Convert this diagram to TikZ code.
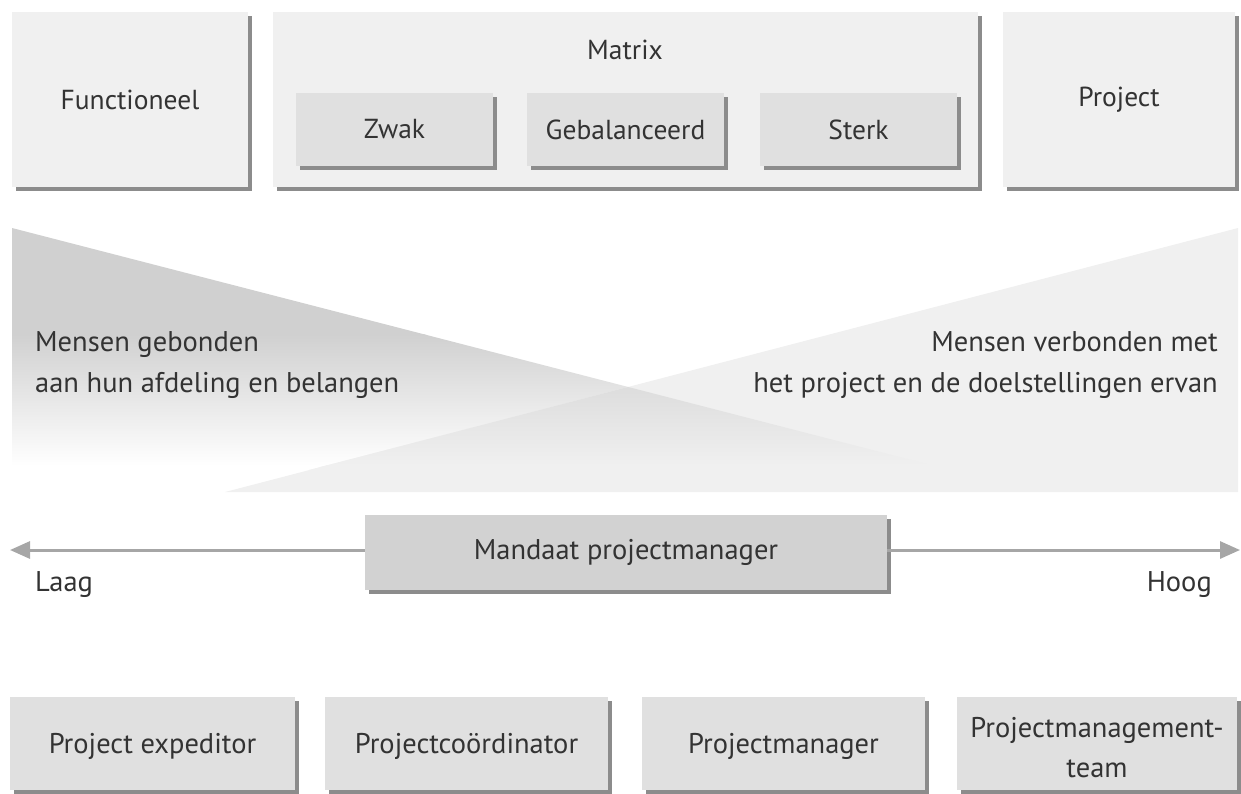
\documentclass[tikz,border=0pt]{standalone}
\usepackage{fontspec}
\setmainfont{PT Sans}
\usetikzlibrary{arrows.meta,shadows}

\definecolor{boxlight}{HTML}{F0F0F0}
\definecolor{boxmid}{HTML}{E0E0E0}
\definecolor{boxdark}{HTML}{D2D2D2}
\definecolor{shadowgray}{HTML}{8C8C8C}
\definecolor{wedgedark}{HTML}{D0D0D0}
\definecolor{wedgelight}{HTML}{F0F0F0}
\definecolor{inkgray}{HTML}{333333}
\definecolor{axisgray}{HTML}{A6A6A6}

\tikzset{
  txt/.style={text=inkgray, font=\fontsize{28.5}{34}\selectfont, inner sep=0pt},
  toptxt/.style={text=inkgray, font=\fontsize{27.5}{33}\selectfont, inner sep=0pt},
  shadowed/.style={drop shadow={shadow xshift=4pt, shadow yshift=-4pt,
      fill=shadowgray, opacity=1}},
  outerbox/.style={shadowed, fill=boxlight, draw=none, toptxt},
  innerbox/.style={shadowed, fill=boxmid, draw=none, toptxt},
  centerbox/.style={shadowed, fill=boxdark, draw=none, txt},
  rolebox/.style={shadowed, fill=boxmid, draw=none,
      minimum width=283pt, minimum height=93pt},
  axis/.style={draw=axisgray, line width=3pt,
      -{Triangle[length=20pt,width=17pt]}},
}

\begin{document}
\begin{tikzpicture}[x=1pt,y=-1pt]
\useasboundingbox (0,0) rectangle (1241,793);

% organisation types
\node[outerbox, minimum width=236pt, minimum height=175pt] (func) at (130,99.5) {Functioneel};
\node[outerbox, minimum width=705pt, minimum height=175pt] (matrix) at (625.5,99.5) {};
\node[toptxt] (matrixlabel) at (625,50) {Matrix};
\node[innerbox, minimum width=197pt, minimum height=73pt] (zwak) at (394.5,129.5) {Zwak};
\node[innerbox, minimum width=197pt, minimum height=73pt] (gebal) at (625.5,129.5) {Gebalanceerd};
\node[innerbox, minimum width=197pt, minimum height=73pt] (sterk) at (858.5,129.5) {Sterk};
\node[outerbox, minimum width=232pt, minimum height=175pt] (proj) at (1119,99.5) {Project};

% wedge with people tied to their department
\begin{scope}
  \clip (12,228) -- (950,470) -- (12,470) -- cycle;
  \fill[wedgedark] (0,220) rectangle (1000,335);
  \shade[top color=wedgedark, bottom color=white] (0,334) rectangle (1000,466);
  \fill[white] (0,465) rectangle (1000,480);
\end{scope}
% wedge with people tied to the project
\fill[wedgelight] (225,492) -- (1238,228) -- (1238,492) -- cycle;
\begin{scope}
  \clip (12,228) -- (950,470) -- (12,470) -- cycle;
  \clip (225,492) -- (1238,228) -- (1238,492) -- cycle;
  \fill[wedgedark] (0,220) rectangle (1000,335);
  \shade[top color=wedgedark, bottom color=wedgelight] (0,334) rectangle (1000,466);
  \fill[wedgelight] (0,465) rectangle (1000,480);
\end{scope}

\node[txt, align=left, anchor=west, font=\fontsize{28.5}{41}\selectfont] (leftlabel) at (35,365)
  {Mensen gebonden\\aan hun afdeling en belangen};
\node[txt, align=right, anchor=east, font=\fontsize{28.5}{41}\selectfont] (rightlabel) at (1218,365)
  {Mensen verbonden met\\het project en de doelstellingen ervan};

% mandate axis
\node[centerbox, minimum width=522pt, minimum height=75pt] (mandaat) at (626,552.5) {Mandaat projectmanager};
\coordinate (lowend) at (10,550);
\coordinate (highend) at (1240,550);
\draw[axis] (mandaat.west |- 0,550) -- (lowend);
\draw[axis] (mandaat.east |- 0,550) -- (highend);
\node[txt, anchor=west] (laag) at (35,585) {Laag};
\node[txt, anchor=east] (hoog) at (1212,585) {Hoog};

% project management roles
\node[rolebox, minimum width=285pt] (expeditor) at (152.5,743.5) {};
\node[rolebox] (coord) at (466.5,743.5) {};
\node[rolebox] (pm) at (783.5,743.5) {};
\node[rolebox, minimum width=280pt] (pmteam) at (1097,743.5) {};
\node[txt] (expeditortext) at (152.5,746) {Project expeditor};
\node[txt] (coordtext) at (466.5,746) {Projectcoördinator};
\node[txt] (pmtext) at (783.5,746) {Projectmanager};
\node[txt, align=center, font=\fontsize{28.5}{40}\selectfont] (pmteamtext) at (1097,748)
  {Projectmanagement-\\team};
\end{tikzpicture}
\end{document}
